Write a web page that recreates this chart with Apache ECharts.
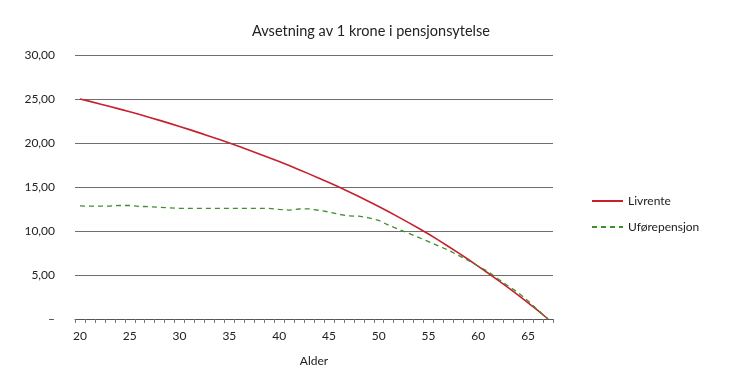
<!DOCTYPE html>
<html><head><meta charset="utf-8">
<script src="https://cdn.jsdelivr.net/npm/echarts@6/dist/echarts.min.js"></script>
<style>html,body{margin:0;padding:0;background:#fff}#c{width:730px;height:384px}</style>
</head><body><div id="c"></div>
<script>
const ages = [];
for (let a = 20; a <= 67; a++) ages.push(String(a));
const livrente = [25.00,24.73,24.44,24.15,23.85,23.54,23.23,22.90,22.57,22.23,21.88,21.52,21.15,20.77,20.39,19.99,
  19.59,19.18,18.76,18.33,17.89,17.43,16.97,16.49,16.00,15.50,14.99,14.46,13.92,13.36,12.79,
  12.19,11.58,10.95,10.31,9.66,8.96,8.24,7.51,6.76,5.99,5.20,4.39,3.56,2.71,1.84,0.95,0.00];
const ufore = [12.85,12.82,12.82,12.84,12.90,12.90,12.80,12.75,12.70,12.62,12.58,12.58,12.58,12.58,12.58,12.58,
  12.58,12.58,12.58,12.58,12.45,12.38,12.50,12.52,12.35,12.16,11.90,11.72,11.68,11.50,11.20,
  10.65,10.20,9.74,9.28,8.80,8.30,7.82,7.23,6.65,6.00,5.38,4.55,3.75,3.00,2.05,1.00,0.00];
const yTicks = [0,5,10,15,20,25,30];
const seriesNames = ['Livrente','Uførepensjon'];

const chart = echarts.init(document.getElementById('c'), null, {renderer:'canvas'});
const font = 'Lato';
chart.setOption({
  animation:false,
  title:{text:'Avsetning av 1 krone i pensjonsytelse', left:366, textAlign:'center', top:19,
    textStyle:{fontFamily:font, fontSize:14.5, fontWeight:'normal', color:'#222'}},
  legend:{orient:'vertical', left:586, top:190, itemWidth:31, itemHeight:10, itemGap:14,
    itemStyle:{opacity:0},
    data:seriesNames, textStyle:{fontFamily:font, fontSize:12, color:'#222'}},
  grid:{left:75, right:177, top:55, bottom:65},
  xAxis:{type:'category', data:ages, boundaryGap:true,
    name:'Alder', nameLocation:'middle', nameGap:36,
    nameTextStyle:{fontFamily:font, fontSize:12, color:'#222'},
    axisLine:{lineStyle:{color:'#555', width:1}},
    axisTick:{show:true, interval:0, length:4, inside:false, lineStyle:{color:'#777'}},
    axisLabel:{interval:(i)=>i%5===0, margin:11, fontFamily:font, fontSize:12, color:'#222'},
    splitLine:{show:false}},
  yAxis:{type:'value', min:yTicks[0], max:yTicks[yTicks.length-1], interval:5,
    axisLine:{show:false}, axisTick:{show:false},
    axisLabel:{margin:20, fontFamily:font, fontSize:12, color:'#222',
      formatter:(v)=> v===0 ? '–' : v.toFixed(2).replace('.',',')},
    splitLine:{lineStyle:{color:'#6e6e6e', width:1}}},
  series:[
    {name:seriesNames[0], type:'line', data:livrente, symbol:'none', smooth:false,
      lineStyle:{color:'#c8202f', width:1.6}, itemStyle:{color:'#c8202f'}},
    {name:seriesNames[1], type:'line', data:ufore, symbol:'none', smooth:false,
      lineStyle:{color:'#3f8f2f', width:1.3, type:[5,4]}, itemStyle:{color:'#3f8f2f'}}
  ]
});
</script></body></html>
